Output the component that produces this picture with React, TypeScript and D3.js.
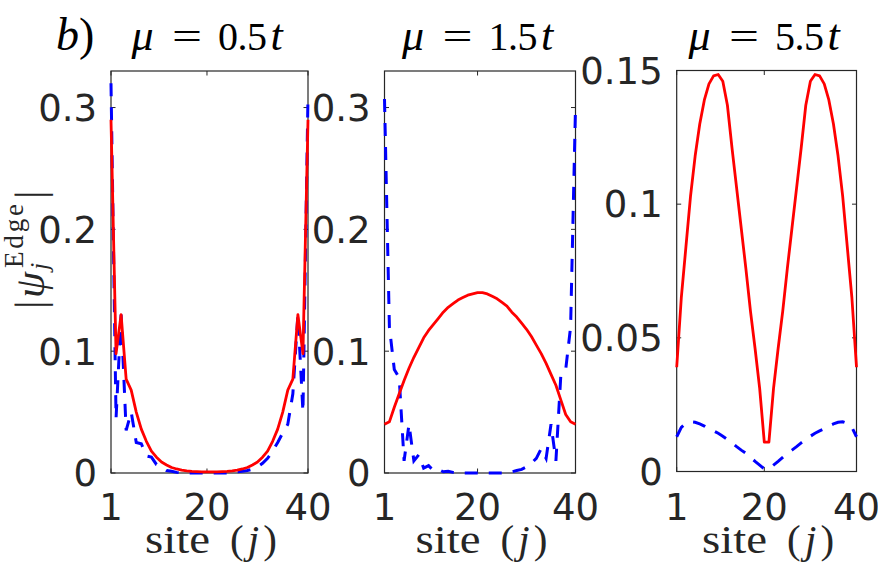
import * as d3 from 'd3'

// site index j = 1..40
const sites = d3.range(1, 41)
const xTicks = [1, 20, 40]

// mu = 0.5t
const redA = [0.29, 0.098, 0.13, 0.077, 0.068, 0.05, 0.036, 0.026, 0.018, 0.013, 0.009, 0.0066, 0.0045, 0.0033, 0.0024, 0.0018, 0.0014, 0.0012, 0.001, 0.001,
  0.001, 0.001, 0.0012, 0.0014, 0.0018, 0.0024, 0.0033, 0.0045, 0.0066, 0.009, 0.013, 0.018, 0.026, 0.036, 0.05, 0.068, 0.077, 0.13, 0.098, 0.29]
const blueA = [0.32, 0.045, 0.13, 0.035, 0.05, 0.025, 0.024, 0.014, 0.013, 0.007, 0.005, 0.002, 0.0015, 0.0005, 0, 0, 0, 0, 0, 0,
  0, 0, 0, 0, 0.0005, 0.001, 0.0015, 0.002, 0.003, 0.005, 0.008, 0.012, 0.018, 0.025, 0.033, 0.04, 0.065, 0.13, 0.05, 0.31]

// mu = 1.5t
const redB = [0.04, 0.042, 0.054, 0.065, 0.076, 0.086, 0.095, 0.103, 0.111, 0.117, 0.122, 0.127, 0.132, 0.136, 0.139, 0.142, 0.144, 0.146, 0.147, 0.148,
  0.148, 0.147, 0.145, 0.143, 0.14, 0.137, 0.132, 0.128, 0.123, 0.118, 0.112, 0.105, 0.098, 0.09, 0.081, 0.072, 0.06, 0.048, 0.042, 0.04]
const blueB = [0.307, 0.12, 0.085, 0.078, 0.01, 0.04, 0.01, 0.015, 0.004, 0.006, 0.002, 0.003, 0.001, 0.0015, 0.0005, 0, 0, 0, 0, 0,
  0, 0, 0, 0, 0, 0.0005, 0.001, 0.002, 0.003, 0.005, 0.008, 0.012, 0.02, 0.012, 0.04, 0.01, 0.08, 0.085, 0.12, 0.3]

// mu = 5.5t
const redC = [0.039, 0.065, 0.084, 0.103, 0.118, 0.13, 0.139, 0.145, 0.148, 0.1485, 0.146, 0.137, 0.121, 0.106, 0.091, 0.076, 0.06, 0.046, 0.031, 0.011,
  0.011, 0.031, 0.046, 0.06, 0.076, 0.091, 0.106, 0.121, 0.137, 0.146, 0.1485, 0.148, 0.145, 0.139, 0.13, 0.118, 0.103, 0.084, 0.065, 0.039]
const blueC = [0.013, 0.0165, 0.018, 0.0186, 0.0184, 0.0178, 0.017, 0.016, 0.0152, 0.0143, 0.0132, 0.012, 0.0107, 0.0093, 0.008, 0.0068, 0.0053, 0.0038, 0.0024, 0.001,
  0.001, 0.0024, 0.0038, 0.0053, 0.0068, 0.008, 0.0093, 0.0107, 0.012, 0.0132, 0.0143, 0.0152, 0.016, 0.017, 0.0178, 0.0184, 0.0186, 0.018, 0.0165, 0.013]

const muValues = ['0.5', '1.5', '5.5']
const yTicksAB = [0, 0.1, 0.2, 0.3]
const yTicksC = [0, 0.05, 0.1, 0.15]

const INK = '#262626'
const SANS = 'DejaVu Sans'
const SERIF = 'Liberation Serif'

const panels = [
  { left: 111, right: 308, top: 71, bottom: 473, ymax: 0.33, yTicks: yTicksAB, red: redA, blue: blueA, mu: muValues[0] },
  { left: 384.5, right: 575.5, top: 71, bottom: 473, ymax: 0.33, yTicks: yTicksAB, red: redB, blue: blueB, mu: muValues[1] },
  { left: 676.7, right: 856.5, top: 70.5, bottom: 471.5, ymax: 0.15, yTicks: yTicksC, red: redC, blue: blueC, mu: muValues[2] },
]

function Panel({ p }: { p: typeof panels[number] }) {
  const x = d3.scaleLinear().domain([1, 40]).range([p.left, p.right])
  const y = d3.scaleLinear().domain([0, p.ymax]).range([p.bottom, p.top])
  const line = d3.line<number>().x((_, i) => x(sites[i])).y(d => y(d))
  const cx = (p.left + p.right) / 2
  const tick = 4.5

  return (
    <g>
      <rect x={p.left} y={p.top} width={p.right - p.left} height={p.bottom - p.top} fill="none" stroke={INK} strokeWidth={1.2} />
      {p.yTicks.map(v => (
        <g key={'y' + v}>
          <line x1={p.left} x2={p.left + tick} y1={y(v)} y2={y(v)} stroke={INK} />
          <line x1={p.right} x2={p.right - tick} y1={y(v)} y2={y(v)} stroke={INK} />
          <text x={p.left - 14} y={y(v)} dy="0.36em" textAnchor="end" fontFamily={SANS} fontSize={37} fill={INK}>{String(v)}</text>
        </g>
      ))}
      {xTicks.map(v => (
        <g key={'x' + v}>
          <line x1={x(v)} x2={x(v)} y1={p.bottom} y2={p.bottom - tick} stroke={INK} />
          <line x1={x(v)} x2={x(v)} y1={p.top} y2={p.top + tick} stroke={INK} />
          <text x={x(v)} y={520} textAnchor="middle" fontFamily={SANS} fontSize={37} fill={INK}>{String(v)}</text>
        </g>
      ))}
      <path d={line(p.blue) ?? ''} fill="none" stroke="#0000ff" strokeWidth={3} strokeDasharray="13 11" />
      <path d={line(p.red) ?? ''} fill="none" stroke="#ff0000" strokeWidth={2.8} strokeLinejoin="round" />

      {/* title: mu = value t */}
      <g fontFamily={SERIF} fontSize={40} fill="#000">
        <text x={cx - 78} y={50} fontStyle="italic" fontSize={44}>μ</text>
        <text x={cx - 37.5} y={50} textLength={30} lengthAdjust="spacingAndGlyphs">=</text>
        <text x={cx + 8.5} y={50} textLength={49} lengthAdjust="spacing">{p.mu}</text>
        <text x={cx + 61} y={50} fontStyle="italic" fontSize={44}>t</text>
      </g>

      {/* x label: site (j) */}
      <g fontFamily={SERIF} fontSize={41} fill={INK}>
        <text x={cx - 64.5} y={553} textLength={65} lengthAdjust="spacingAndGlyphs">site</text>
        <text x={cx + 20.5} y={553} textLength={47} lengthAdjust="spacing">(<tspan fontStyle="italic">j</tspan>)</text>
      </g>
    </g>
  )
}

export default function App() {
  return (
    <svg width={878} height={569} viewBox="0 0 878 569" style={{ position: 'absolute', left: 0, top: 0, background: '#fff' }}>
      <rect width={878} height={569} fill="#fff" />
      {panels.map((p, i) => <Panel key={i} p={p} />)}
      <text x={56} y={50} fontFamily={SERIF} fontSize={46} fill="#000">
        <tspan fontStyle="italic">b</tspan>)
      </text>
      {/* y label: |psi_j^Edge| */}
      <g transform="translate(44,306) rotate(-90)" fontFamily={SERIF} fill={INK}>
        <text x={-3} y={0} fontSize={42}>|</text>
        <text x={8} y={0} fontSize={42} fontStyle="italic">ψ</text>
        <text x={36} y={4} fontSize={26} fontStyle="italic">j</text>
        <text x={38} y={-21} fontSize={27} textLength={64} lengthAdjust="spacing">Edge</text>
        <text x={107} y={0} fontSize={42}>|</text>
      </g>
    </svg>
  )
}
